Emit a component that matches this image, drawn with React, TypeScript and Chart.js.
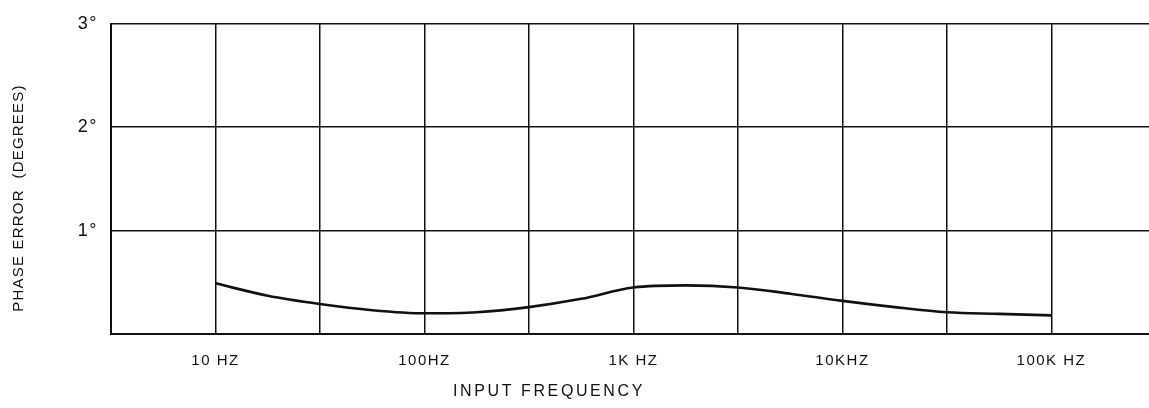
import React, { useEffect, useRef } from "react";
import { Chart, registerables } from "chart.js";

Chart.register(...registerables);

const FREQS = [10, 17.8, 31.6, 56.2, 100, 178, 316, 562, 1000, 1778, 3162, 5623, 10000, 17783, 31623, 56234, 100000];
const PHASE_ERROR = [0.49, 0.37, 0.29, 0.23, 0.2, 0.21, 0.26, 0.34, 0.45, 0.47, 0.45, 0.39, 0.32, 0.26, 0.21, 0.195, 0.18];

const GRID_FREQS = [3.1623, 10, 31.623, 100, 316.23, 1000, 3162.3, 10000, 31623, 100000];
const GRID_LABELS = ["", "10 HZ", "", "100HZ", "", "1K HZ", "", "10KHZ", "", "100K HZ"];
const Y_TICKS = [0, 1, 2, 3];
const Y_LABELS = ["", "1°", "2°", "3°"];

const X_TITLE = "INPUT FREQUENCY";
const Y_TITLE = "PHASE ERROR  (DEGREES)";

const FONT = "'Liberation Sans', Arial, sans-serif";

export default function App() {
  const ref = useRef<HTMLCanvasElement | null>(null);

  useEffect(() => {
    document.body.style.margin = "0";
    const canvas = ref.current!;
    const titles = {
      id: "titles",
      beforeDraw(chart: any) {
        chart.ctx.letterSpacing = "1.5px";
      },
      afterDraw(chart: any) {
        const ctx = chart.ctx;
        ctx.save();
        ctx.fillStyle = "#111";
        ctx.font = `16px ${FONT}`;
        ctx.letterSpacing = "2.6px";
        ctx.textAlign = "center";
        ctx.textBaseline = "middle";
        ctx.fillText(X_TITLE, 549, 392);
        ctx.translate(19, 198);
        ctx.rotate(-Math.PI / 2);
        ctx.font = `15px ${FONT}`;
        ctx.letterSpacing = "1.2px";
        ctx.fillText(Y_TITLE, 0, 0);
        ctx.restore();
      },
    };
    const chart = new Chart(canvas, {
      type: "line",
      data: {
        datasets: [
          {
            data: FREQS.map((f, i) => ({ x: f, y: PHASE_ERROR[i] })),
            borderColor: "#111",
            borderWidth: 2.6,
            pointRadius: 0,
            cubicInterpolationMode: "monotone",
            fill: false,
          },
        ],
      },
      options: {
        animation: false,
        responsive: false,
        layout: { padding: { top: 22, right: 0, left: 0, bottom: 0 } },
        plugins: { legend: { display: false }, tooltip: { enabled: false } },
        scales: {
          x: {
            type: "logarithmic",
            min: 3.1623,
            max: 293000,
            afterBuildTicks: (scale: any) => {
              scale.ticks = GRID_FREQS.map((v) => ({ value: v }));
            },
            afterFit: (scale: any) => {
              scale.height = 74;
            },
            ticks: {
              autoSkip: false,
              maxRotation: 0,
              padding: 18,
              color: "#111",
              font: { family: FONT, size: 15 },
              callback: (_v: any, i: number) => GRID_LABELS[i],
            },
            grid: { color: "#111", lineWidth: 1.5, drawTicks: false },
            border: { color: "#111", width: 2 },
          },
          y: {
            type: "linear",
            min: 0,
            max: 3,
            afterBuildTicks: (scale: any) => {
              scale.ticks = Y_TICKS.map((v) => ({ value: v }));
            },
            afterFit: (scale: any) => {
              scale.width = 111;
            },
            ticks: {
              padding: 13,
              color: "#111",
              font: { family: FONT, size: 18 },
              callback: (_v: any, i: number) => Y_LABELS[i],
            },
            grid: { color: "#111", lineWidth: 1.5, drawTicks: false },
            border: { color: "#111", width: 2 },
          },
        },
      },
      plugins: [titles],
    } as any);
    return () => chart.destroy();
  }, []);

  return (
    <div style={{ position: "absolute", left: 0, top: 0, width: 1149, height: 408, background: "#fff" }}>
      <canvas ref={ref} width={1149} height={408} />
    </div>
  );
}
